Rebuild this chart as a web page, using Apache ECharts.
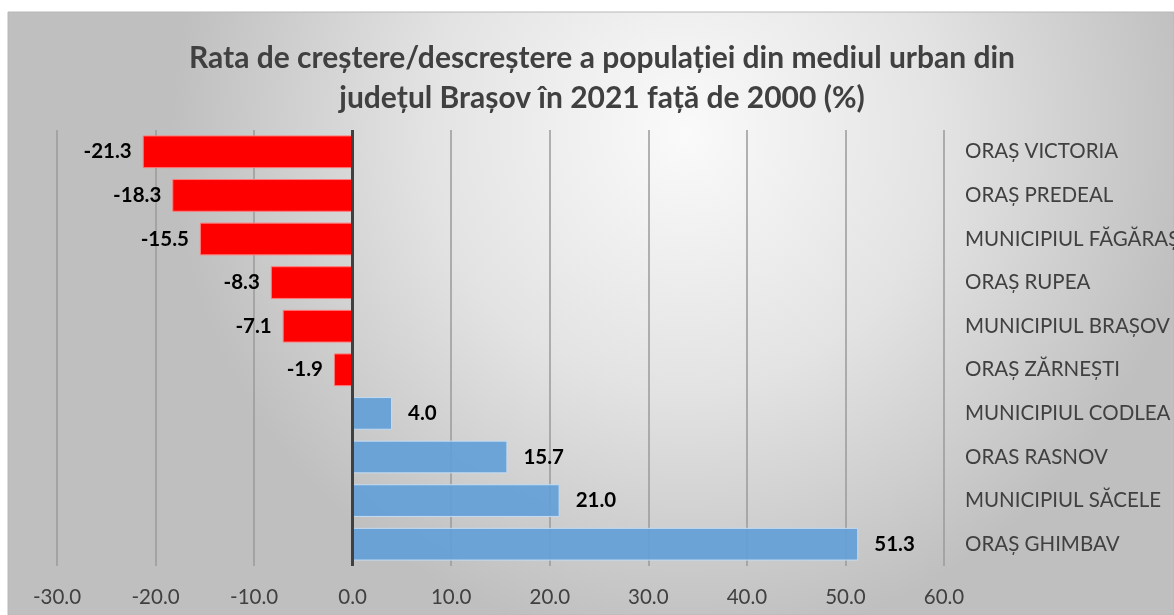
<!DOCTYPE html>
<html>
<head>
<meta charset="utf-8">
<script src="https://cdn.jsdelivr.net/npm/echarts@6/dist/echarts.min.js"></script>
<style>
html,body{margin:0;padding:0;background:#fff;}
#chart{width:1174px;height:615px;}
</style>
</head>
<body>
<div id="chart"></div>
<script>
const categories = ['ORAȘ VICTORIA','ORAȘ PREDEAL','MUNICIPIUL FĂGĂRAȘ','ORAȘ RUPEA','MUNICIPIUL BRAȘOV','ORAȘ ZĂRNEȘTI','MUNICIPIUL CODLEA','ORAS RASNOV','MUNICIPIUL SĂCELE','ORAȘ GHIMBAV'];
const values = [-21.3,-18.3,-15.5,-8.3,-7.1,-1.9,4.0,15.7,21.0,51.3];
const titleText = 'Rata de creștere/descreștere a populației din mediul urban din\njudețul Brașov în 2021 față de 2000 (%)';
const FONT = 'Lato, "Open Sans", sans-serif';

const chart = echarts.init(document.getElementById('chart'), null, {renderer:'canvas'});
const seriesData = values.map(v => ({
  value: v,
  itemStyle: v < 0
    ? {color:'#ff0000', borderColor:'#ff7a7a', borderWidth:1}
    : {color:'rgba(100,160,215,0.92)', borderColor:'#c4dcf2', borderWidth:1},
  label: {position: v < 0 ? 'left' : 'right', distance: v < 0 ? 11 : 16}
}));

chart.setOption({
  animation:false,
  graphic:[{
    type:'rect', z:-10, silent:true,
    shape:{x:8,y:12,width:1166,height:603},
    style:{
      fill:new echarts.graphic.RadialGradient(0.58,0.2,0.85,[
        {offset:0,color:'#fafafa'},
        {offset:0.5,color:'#e3e3e3'},
        {offset:1,color:'#bfbfbf'}
      ]),
      stroke:'#b8b8b8', lineWidth:1
    }
  }],
  title:{
    text:titleText,
    left:597, textAlign:'center', top:33,
    textStyle:{fontFamily:FONT, fontSize:30, fontWeight:'bold', color:'#404040', lineHeight:40}
  },
  grid:{left:57, right:230, top:130, bottom:49, containLabel:false, outerBoundsMode:'none'},
  xAxis:{
    type:'value', min:-30, max:60, interval:10,
    axisLine:{show:false}, axisTick:{show:false},
    splitLine:{show:true, lineStyle:{color:'#9a9a9a', width:1.5}},
    axisLabel:{margin:21, fontFamily:FONT, fontSize:20.5, color:'#404040', formatter:v=>v.toFixed(1)}
  },
  yAxis:{
    type:'category', data:categories, inverse:true, position:'right',
    axisLine:{show:false}, axisTick:{show:false}, splitLine:{show:false},
    axisLabel:{margin:21, fontFamily:FONT, fontSize:20.5, color:'#404040', align:'left'}
  },
  series:[{
    type:'bar', data:seriesData, barWidth:'75%',
    label:{show:true, fontFamily:FONT, fontSize:20.5, fontWeight:'bold', color:'#000', formatter:p=>p.value.toFixed(1)},
    markLine:{
      silent:true, symbol:'none', animation:false,
      label:{show:false},
      lineStyle:{color:'#404040', width:3, type:'solid'},
      data:[{xAxis:0}]
    }
  }]
});
</script>
</body>
</html>
